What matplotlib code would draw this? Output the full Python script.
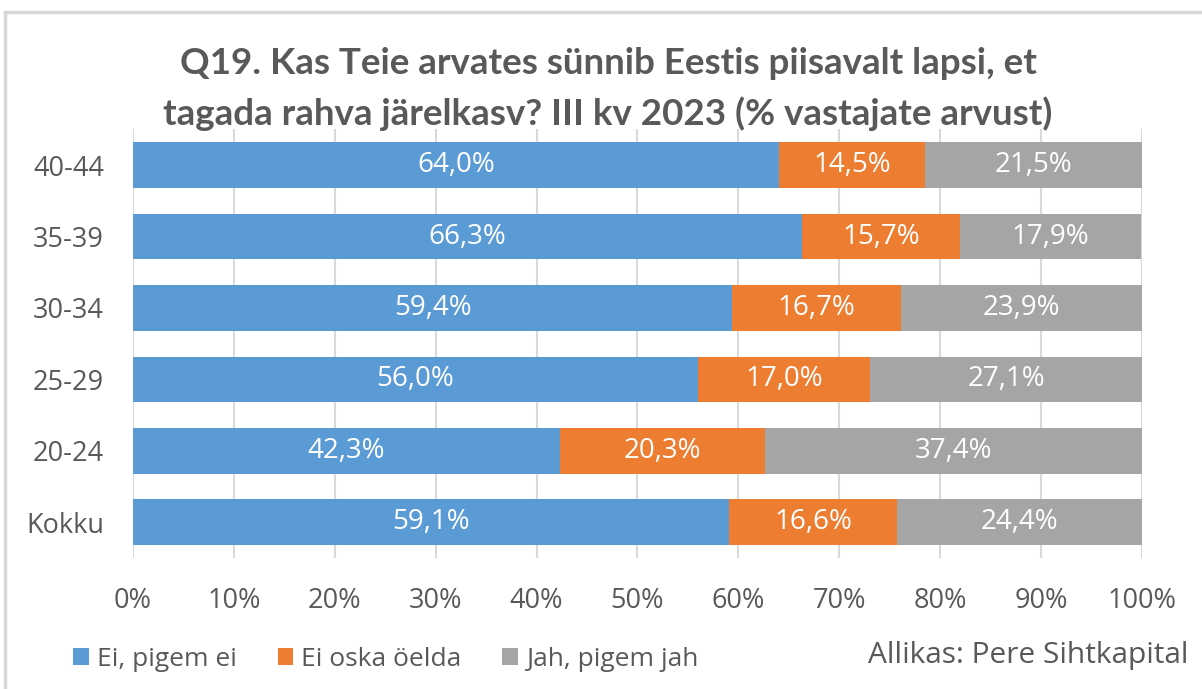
import matplotlib
matplotlib.use("Agg")
import matplotlib.pyplot as plt
from matplotlib.patches import Rectangle
import numpy as np

plt.rcParams["font.family"] = ["Open Sans", "DejaVu Sans"]

# Excel-style palette
_BLUE = "#5B9BD5"
_ORANGE = "#ED7D31"
_GRAY = "#A5A5A5"
_TEXT = "#595959"
_GRID = "#D9D9D9"

categories = ["40-44", "35-39", "30-34", "25-29", "20-24", "Kokku"]
ei = [64.0, 66.3, 59.4, 56.0, 42.3, 59.1]
ei_oska = [14.5, 15.7, 16.7, 17.0, 20.3, 16.6]
jah = [21.5, 17.9, 23.9, 27.1, 37.4, 24.4]
series_names = ["Ei, pigem ei", "Ei oska öelda", "Jah, pigem jah"]
x_ticks = [0, 10, 20, 30, 40, 50, 60, 70, 80, 90, 100]

title = ("Q19. Kas Teie arvates sünnib Eestis piisavalt lapsi, et\n"
         "tagada rahva järelkasv? III kv 2023 (% vastajate arvust)")
source = "Allikas: Pere Sihtkapital"

fig = plt.figure(figsize=(12.02, 6.89), dpi=100, facecolor="white")
ax = fig.add_axes([0.1107, 0.190, 0.8393, 0.6223])

# chart frame, only top and left edges are visible in the crop
fig.patches.append(Rectangle((5 / 1202, -0.1), 1.2, 1 - 12 / 689 + 0.1,
                             transform=fig.transFigure, fill=False,
                             edgecolor="#D6D6D6", linewidth=2.5))

y = np.arange(len(categories))
left = np.zeros(len(categories))
for vals, color, name in zip([ei, ei_oska, jah], [_BLUE, _ORANGE, _GRAY], series_names):
    vals = np.array(vals)
    bars = ax.barh(y, vals, left=left, height=0.64, color=color, label=name, zorder=3)
    for b, v in zip(bars, vals):
        ax.text(b.get_x() + b.get_width() / 2, b.get_y() + b.get_height() / 2,
                f"{v:.1f}%".replace(".", ","), ha="center", va="center",
                color="white", fontsize=20, zorder=4)
    left = left + vals

ax.set_xlim(0, 100)
ax.set_ylim(len(categories) - 0.5, -0.5)
ax.set_xticks(x_ticks)
ax.set_xticklabels([f"{t}%" for t in x_ticks])
ax.set_yticks(y)
ax.set_yticklabels(categories)
ax.tick_params(axis="both", length=0, labelsize=19.5, labelcolor=_TEXT)
ax.tick_params(axis="x", pad=21)
ax.tick_params(axis="y", pad=21)
ax.grid(axis="x", color=_GRID, linewidth=1.5, zorder=0)
for s in ax.spines.values():
    s.set_visible(False)

fig.text(608 / 1202, 1 - 89 / 689, title, ha="center", va="center",
         fontsize=26.5, fontweight="bold", color=_TEXT, linespacing=1.55,
         family=["Lato", "DejaVu Sans"])

leg = fig.legend(loc="center left", bbox_to_anchor=(73 / 1202, 1 - 659 / 689),
                 ncol=3, frameon=False, fontsize=19, labelcolor=_TEXT,
                 handlelength=0.6, handleheight=0.6, handletextpad=0.3,
                 columnspacing=1.55, borderpad=0, borderaxespad=0)

fig.text(1188 / 1202, 1 - 655 / 689, source, ha="right", va="center",
         fontsize=21.5, color=_TEXT)

fig.savefig("out.png", dpi=100, facecolor="white")
